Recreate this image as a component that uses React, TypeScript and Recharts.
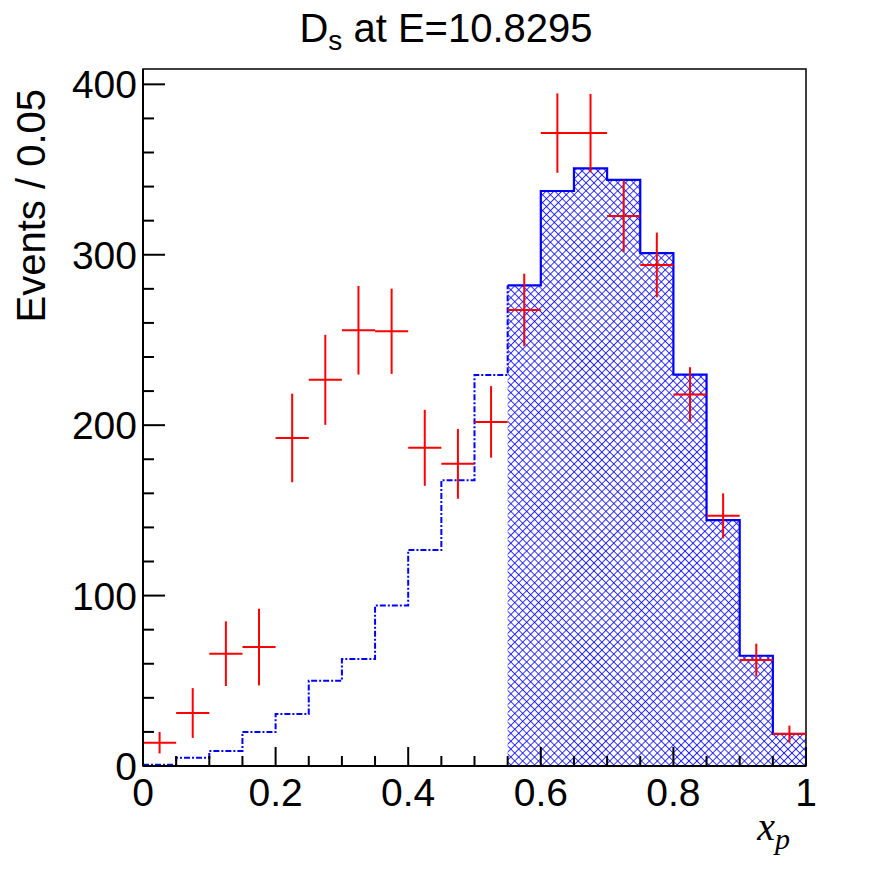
import { ComposedChart, Line, Area, Scatter, ErrorBar, XAxis, YAxis, ReferenceArea } from 'recharts';

// bin edges and centres of the x_p histogram (bin width 0.05)
const binEdges = [0, 0.05, 0.1, 0.15, 0.2, 0.25, 0.3, 0.35, 0.4, 0.45, 0.5, 0.55, 0.6, 0.65, 0.7, 0.75, 0.8, 0.85, 0.9, 0.95, 1];
const binCenters = [0.025, 0.075, 0.125, 0.175, 0.225, 0.275, 0.325, 0.375, 0.425, 0.475, 0.525, 0.575, 0.625, 0.675, 0.725, 0.775, 0.825, 0.875, 0.925, 0.975];

// MC expectation (blue histogram)
const mcCounts = [0.8, 4.9, 8.8, 19.9, 30.5, 50.0, 62.8, 94.2, 126.7, 167.7, 229.5, 282.0, 337.4, 350.7, 343.9, 300.9, 229.7, 144.3, 64.7, 18.8];

// measured points (red crosses)
const dataCounts = [13.7, 31.1, 65.9, 69.8, 192.5, 226.6, 255.7, 255.1, 186.7, 177.3, 201.9, 267.6, 371.4, 371.4, 322.7, 294.0, 218.0, 146.8, 62.2, 18.8];
const dataErrors = [6.3, 14.6, 19.0, 22.5, 26.0, 26.4, 26.0, 25.0, 22.3, 20.5, 21.0, 21.3, 23.3, 23.0, 21.0, 19.0, 16.0, 13.2, 9.6, 4.9];

const xTicks = [0, 0.05, 0.1, 0.15, 0.2, 0.25, 0.3, 0.35, 0.4, 0.45, 0.5, 0.55, 0.6, 0.65, 0.7, 0.75, 0.8, 0.85, 0.9, 0.95, 1];
const yTicks = [0, 20, 40, 60, 80, 100, 120, 140, 160, 180, 200, 220, 240, 260, 280, 300, 320, 340, 360, 380, 400];

const binWidth = 0.05;
const signalStart = 0.55;
const yMax = 409;

const FONT = '"Liberation Sans", Arial, Helvetica, sans-serif';

const histRows = binEdges.map((x, i) => ({ x, mc: mcCounts[Math.min(i, mcCounts.length - 1)] }));
const dashedRows = histRows.filter((r) => r.x <= signalStart + 1e-9);
const solidRows = histRows.filter((r) => r.x >= signalStart - 1e-9);
const points = binCenters.map((x, i) => ({ x, y: dataCounts[i], ey: dataErrors[i], ex: binWidth / 2 }));

const isMultiple = (v: number, step: number) => Math.abs(v / step - Math.round(v / step)) < 1e-6;

const XTick = (props: any) => {
  const { x, y, payload } = props;
  const v = payload.value as number;
  const major = isMultiple(v, 0.2);
  return (
    <g>
      <line x1={x} y1={y} x2={x} y2={y - (major ? 19 : 10)} stroke="#000" strokeWidth={2} />
      {major && (
        <text x={x} y={y + 40} textAnchor="middle" fontSize={39} fontFamily={FONT} fill="#000">
          {String(Math.round(v * 10) / 10)}
        </text>
      )}
    </g>
  );
};

const YTick = (props: any) => {
  const { x, y, payload } = props;
  const v = payload.value as number;
  const major = isMultiple(v, 100);
  return (
    <g>
      <line x1={x} y1={y} x2={x + (major ? 22 : 11)} y2={y} stroke="#000" strokeWidth={2} />
      {major && (
        <text x={x - 6} y={y + 14} textAnchor="end" fontSize={39} fontFamily={FONT} fill="#000">
          {String(v)}
        </text>
      )}
    </g>
  );
};

export default function App() {
  return (
    <div style={{ position: 'absolute', left: 0, top: 0, width: 896, height: 872, background: '#fff' }}>
      <ComposedChart width={896} height={872} margin={{ top: 69, right: 90, bottom: 0, left: 0 }}>
        <defs>
          <pattern id="hatch" width="5.6" height="5.6" patternUnits="userSpaceOnUse" patternTransform="rotate(45)">
            <line x1="0.5" y1="0" x2="0.5" y2="5.6" stroke="#0000ff" strokeWidth="0.8" />
            <line x1="0" y1="0.5" x2="5.6" y2="0.5" stroke="#0000ff" strokeWidth="0.8" />
          </pattern>
        </defs>
        <Area
          data={solidRows}
          dataKey="mc"
          type="stepAfter"
          fill="url(#hatch)"
          fillOpacity={1}
          stroke="#0000ff"
          strokeWidth={2.2}
          baseValue={0}
          dot={false}
          activeDot={false}
          isAnimationActive={false}
        />
        <Line
          data={dashedRows}
          dataKey="mc"
          type="stepAfter"
          stroke="#0000ff"
          strokeWidth={2}
          strokeDasharray="6 2 2 2"
          dot={false}
          activeDot={false}
          isAnimationActive={false}
        />
        <Scatter data={points} dataKey="y" fill="red" shape={() => <g />} isAnimationActive={false}>
          <ErrorBar dataKey="ey" direction="y" width={0} stroke="#ff0000" strokeWidth={2} />
          <ErrorBar dataKey="ex" direction="x" width={0} stroke="#ff0000" strokeWidth={2} />
        </Scatter>
        <XAxis
          dataKey="x"
          type="number"
          domain={[0, 1]}
          ticks={xTicks}
          interval={0}
          allowDataOverflow
          height={106}
          tickSize={0}
          tickMargin={0}
          tickLine={false}
          axisLine={{ stroke: '#000', strokeWidth: 2 }}
          tick={<XTick />}
        />
        <YAxis
          type="number"
          domain={[0, yMax]}
          ticks={yTicks}
          interval={0}
          allowDataOverflow
          width={143}
          tickSize={0}
          tickMargin={0}
          tickLine={false}
          axisLine={{ stroke: '#000', strokeWidth: 2 }}
          tick={<YTick />}
        />
        <ReferenceArea x1={0} x2={1} y1={0} y2={yMax} fill="none" fillOpacity={0} stroke="#000" strokeWidth={1.5} />
      </ComposedChart>
      <svg width={896} height={872} style={{ position: 'absolute', left: 0, top: 0, pointerEvents: 'none' }}>
        <text x={446} y={42} textAnchor="middle" fontSize={40} fontFamily={FONT} fill="#000">
          D<tspan fontSize={28} dy={8}>s</tspan>
          <tspan dy={-8}> at E=10.8295</tspan>
        </text>
        <text transform="translate(45,89) rotate(-90)" textAnchor="end" fontSize={40} fontFamily={FONT} fill="#000">
          Events / 0.05
        </text>
        <text x={790} y={840} textAnchor="end" fontSize={40} fontStyle="italic" fontFamily='"Liberation Serif", "Times New Roman", serif' fill="#000">
          x<tspan fontSize={30} dy={9}>p</tspan>
        </text>
      </svg>
    </div>
  );
}
